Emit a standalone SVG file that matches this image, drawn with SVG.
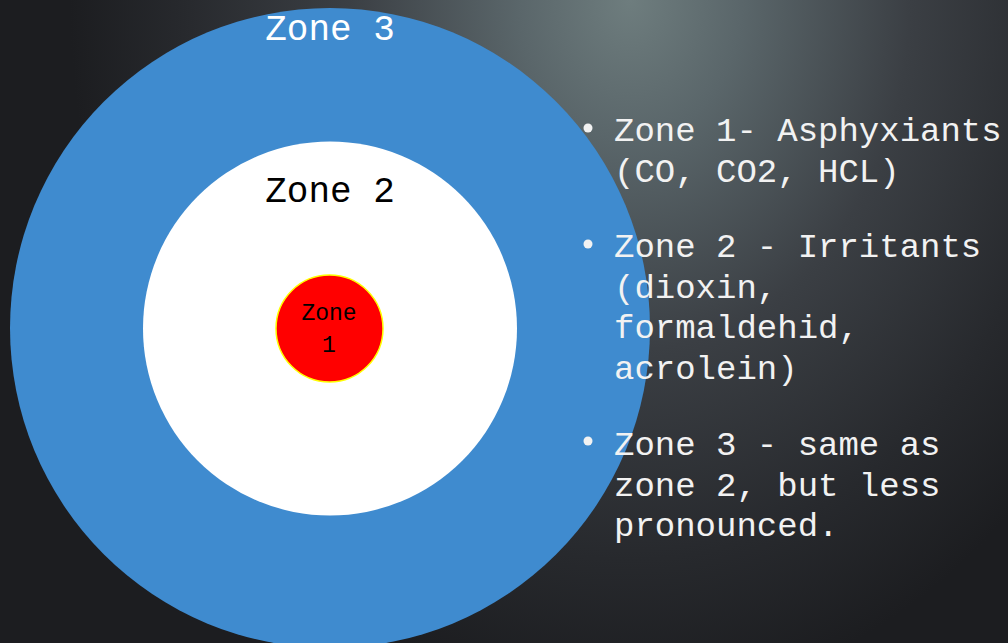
<svg xmlns="http://www.w3.org/2000/svg" width="1008" height="643" viewBox="0 0 1008 643">
<defs>
<radialGradient id="bg" gradientUnits="userSpaceOnUse" cx="630" cy="0" r="560" fx="630" fy="0" gradientTransform="translate(630 0) scale(1 1.25) translate(-630 0)">
<stop offset="0" stop-color="#6e7d7e"/>
<stop offset="0.2" stop-color="#5a666a"/>
<stop offset="0.5" stop-color="#3b3f44"/>
<stop offset="0.8" stop-color="#27292d"/>
<stop offset="1" stop-color="#1c1d20"/>
</radialGradient>
<style>
.mono{font-family:"Liberation Mono","Courier New",monospace;}
.bul{fill:#f2f2f2;font-size:34px;}
.dot{fill:#f2f2f2;}
</style>
</defs>
<rect width="1008" height="643" fill="#24272c"/>
<rect width="1008" height="643" fill="url(#bg)"/>
<g id="zone3">
<circle cx="330" cy="328" r="320" fill="#3f8bcf"/>
<text class="mono" x="330" y="40" font-size="36" fill="#ffffff" text-anchor="middle">Zone 3</text>
</g>
<g id="zone2">
<circle cx="330" cy="328.5" r="187" fill="#ffffff"/>
<text class="mono" x="330" y="202" font-size="36" fill="#000000" text-anchor="middle">Zone 2</text>
</g>
<g id="zone1">
<circle cx="329.5" cy="328.5" r="53.5" fill="#ff0000" stroke="#ffff00" stroke-width="1.5"/>
<text class="mono" x="329" y="320" font-size="23" fill="#000000" text-anchor="middle">Zone</text>
<text class="mono" x="329" y="352" font-size="23" fill="#000000" text-anchor="middle">1</text>
</g>
<g id="connectors"></g>
<g id="legend">
<circle class="dot" cx="588" cy="128" r="4.5"/>
<circle class="dot" cx="588" cy="244" r="4.5"/>
<circle class="dot" cx="588" cy="441" r="4.5"/>
<text class="mono bul" x="614" y="141">Zone 1- Asphyxiants</text>
<text class="mono bul" x="614" y="182">(CO, CO2, HCL)</text>
<text class="mono bul" x="614" y="257">Zone 2 - Irritants</text>
<text class="mono bul" x="614" y="298">(dioxin,</text>
<text class="mono bul" x="614" y="338">formaldehid,</text>
<text class="mono bul" x="614" y="379">acrolein)</text>
<text class="mono bul" x="614" y="455">Zone 3 - same as</text>
<text class="mono bul" x="614" y="496">zone 2, but less</text>
<text class="mono bul" x="614" y="536">pronounced.</text>
</g>
</svg>
